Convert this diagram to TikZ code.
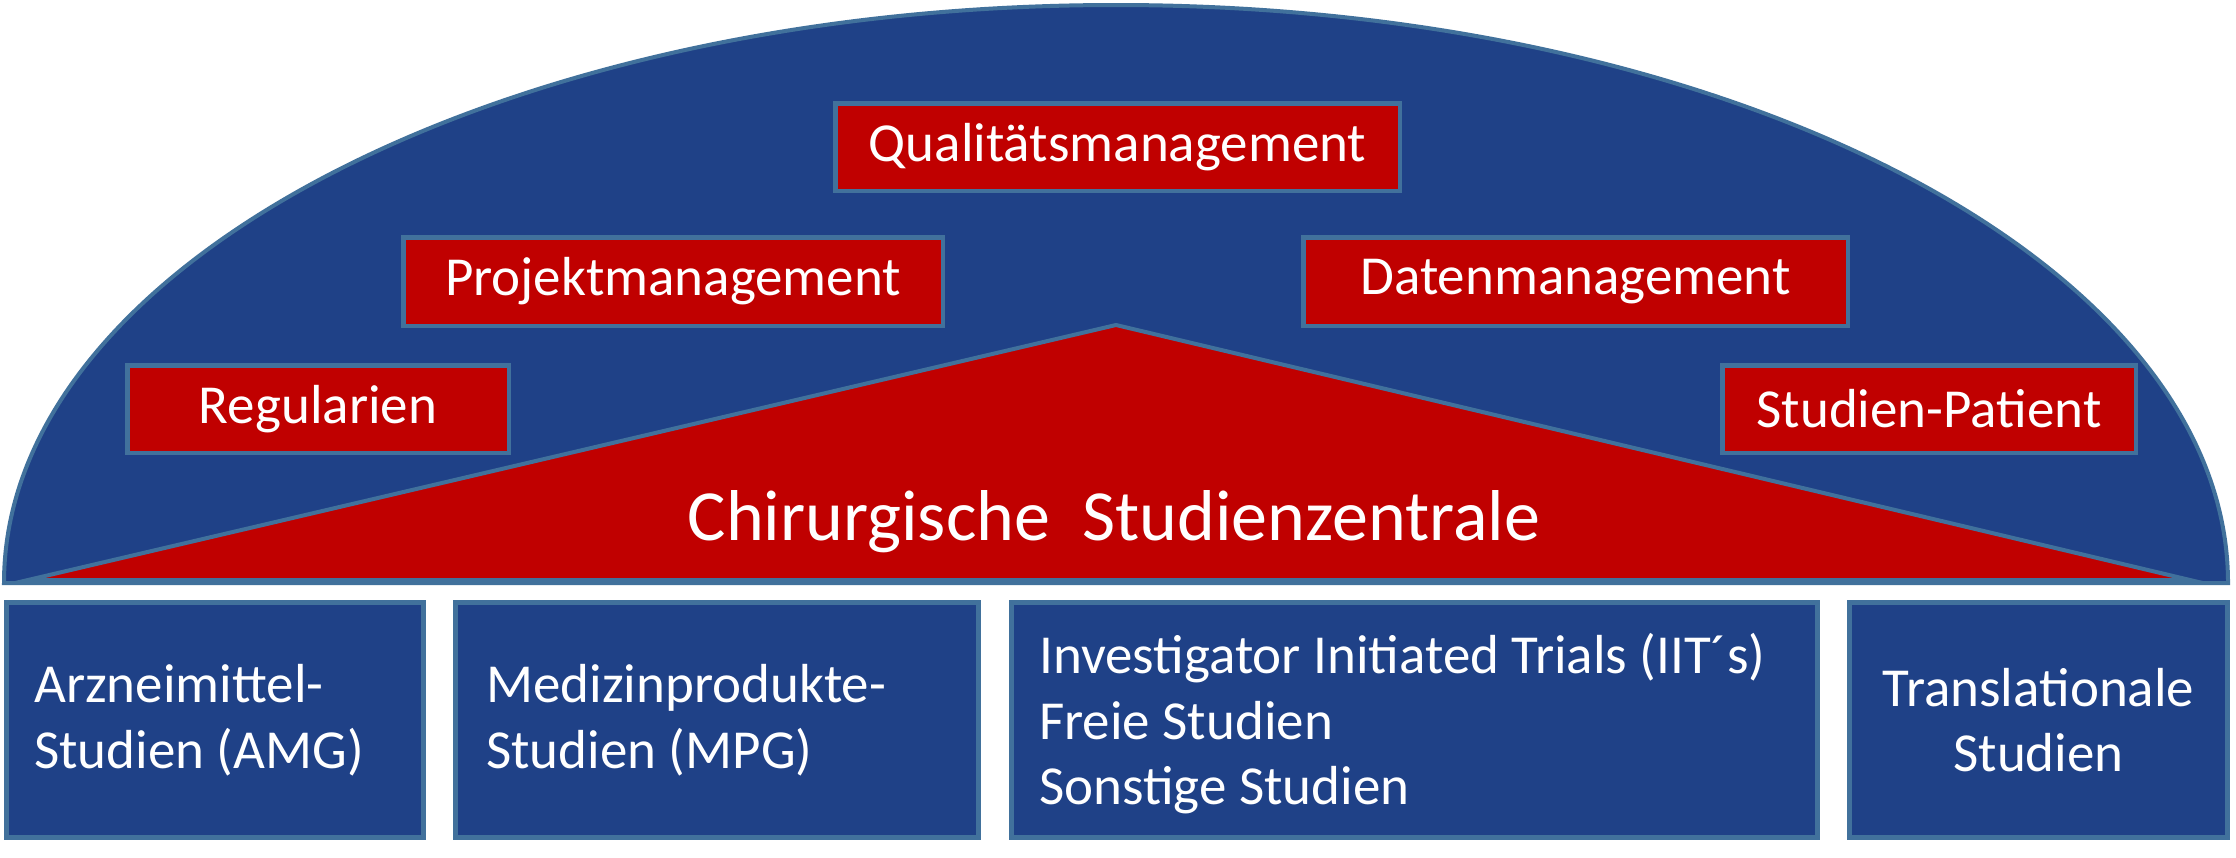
\documentclass[tikz,border=0pt]{standalone}
\usepackage{fontspec}
\setmainfont{Carlito}
\definecolor{dblue}{RGB}{31,65,135}
\definecolor{sblue}{RGB}{65,113,156}
\definecolor{dred}{RGB}{192,0,0}
\begin{document}
\begin{tikzpicture}[x=1pt,y=-1pt,
  topbox/.style={draw=sblue, line width=4.5pt, fill=dred, text=white,
    font=\fontsize{55pt}{66pt}\selectfont, inner sep=0pt},
  botbox/.style={draw=sblue, line width=5pt, fill=dblue, inner sep=0pt,
    minimum height=235pt},
  lbl/.style={text=white, font=\fontsize{55pt}{65.5pt}\selectfont, inner sep=0pt},
  dome/.style={draw=sblue, line width=4pt, fill=dblue},
  roof/.style={draw=sblue, line width=4pt, fill=dred},
]
\fill[white] (0,0) rectangle (2236,857);
\useasboundingbox (0,0) rectangle (2236,857);

% dome (half ellipse)
\draw[dome] (4,583) arc[start angle=180, end angle=360, x radius=1112, y radius=578] -- cycle;

% triangle
\draw[roof] (28,580) -- (1116,325) -- (2190,580) -- cycle;
\node[text=white, font=\fontsize{72pt}{86pt}\selectfont, inner sep=0pt, anchor=base]
  (title) at (1114,540) {Chirurgische\ \ Studienzentrale};

% top boxes
\node[topbox, minimum width=564.5pt, minimum height=87.5pt] (qm) at (1117.5,147) {Qualitätsmanagement};
\node[topbox, minimum width=539.5pt, minimum height=88.5pt] (pm) at (673,281.5) {Projektmanagement};
\node[topbox, minimum width=544.5pt, minimum height=88.5pt] (dm) at (1575.5,281.5) {Datenmanagement};
\node[topbox, minimum width=381.5pt, minimum height=87.5pt] (reg) at (318,409) {Regularien};
\node[topbox, minimum width=413.5pt, minimum height=87.5pt] (sp) at (1929,409) {Studien-Patient};

% bottom boxes
\node[botbox, minimum width=417pt] (b1) at (215,720) {};
\node[botbox, minimum width=523pt] (b2) at (717,720) {};
\node[botbox, minimum width=806pt] (b3) at (1414.5,720) {};
\node[botbox, minimum width=378pt] (b4) at (2038.5,720) {};

\node[lbl, align=left, anchor=west] (l1) at ([xshift=30pt]b1.west) {Arzneimittel-\\Studien (AMG)};
\node[lbl, align=left, anchor=west] (l2) at ([xshift=33pt]b2.west) {Medizinprodukte-\\Studien (MPG)};
\node[lbl, align=left, anchor=west] (l3) at ([xshift=30pt,yshift=-4pt]b3.west) {Investigator Initiated Trials (IIT´s)\\Freie Studien\\Sonstige Studien};
\node[lbl, align=center] (l4) at (b4.center) {Translationale\\Studien};
\end{tikzpicture}
\end{document}
